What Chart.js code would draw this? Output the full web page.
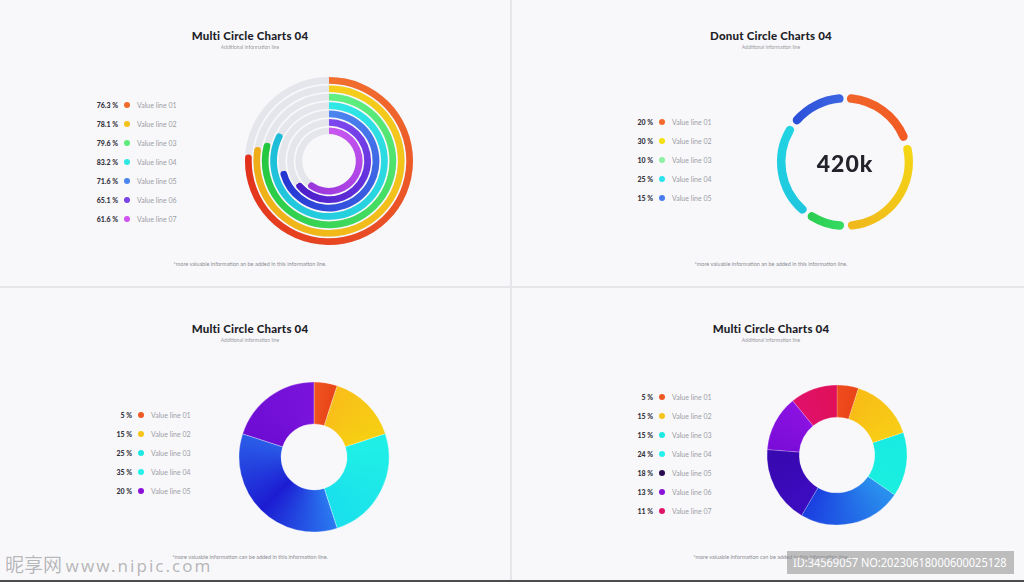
<!DOCTYPE html>
<html>
<head>
<meta charset="utf-8">
<script src="https://cdn.jsdelivr.net/npm/chart.js@4.4.0/dist/chart.umd.min.js"></script>
<style>
html, body { margin: 0; padding: 0; }
body { width: 1024px; height: 582px; position: relative; overflow: hidden; background: #f8f8fb; font-family: Lato, 'Noto Sans', sans-serif; }
.vline { position: absolute; left: 510px; top: 0; width: 2px; height: 580px; background: #e5e5ea; }
.hline { position: absolute; left: 0; top: 286px; width: 1024px; height: 2px; background: #e5e5ea; }
.bottom { position: absolute; left: 0; top: 580px; width: 1024px; height: 2px; background: #4c4c4c; }
.t { position: absolute; white-space: nowrap; line-height: 1; }
.title { font-weight: 900; font-size: 11.5px; color: #1f1f29; transform: translate(-50%, -50%); letter-spacing: 0.2px; }
.sub { font-size: 5px; color: #9a9a9f; transform: translate(-50%, -50%); }
.foot { font-size: 5.5px; color: #8c8c92; transform: translate(-50%, -50%); }
.pct { font-weight: 900; font-size: 7px; color: #34343e; transform: translate(-100%, -50%); }
.lab { font-size: 7px; color: #9c9ca4; transform: translate(0, -50%); }
.dot { position: absolute; width: 6px; height: 6px; border-radius: 50%; transform: translate(-50%, -50%); }
.big { font-weight: 900; font-size: 23px; color: #23232b; transform: translate(-50%, -50%); letter-spacing: 1px; }
canvas { position: absolute; }
.wm { position: absolute; left: 5px; top: 553px; color: rgba(90,90,90,0.42); font-family: 'Noto Sans CJK SC', sans-serif; white-space: nowrap; line-height: 22px; }
.idbox { position: absolute; left: 787px; top: 551px; width: 227px; height: 23px; background: rgba(150,150,150,0.6); }
.idtext { position: absolute; left: 6px; top: 0; color: #fff; font-family: 'Noto Sans', sans-serif; font-size: 13px; line-height: 23px; white-space: nowrap; transform-origin: 0 50%; }
</style>
</head>
<body>
<div class="vline"></div>
<div class="hline"></div>
<div class="bottom"></div>

<canvas id="ringTrack" width="200" height="200" style="left:229px;top:61px"></canvas>
<canvas id="ringChart" width="200" height="200" style="left:229px;top:61px"></canvas>
<canvas id="donut2" width="160" height="160" style="left:765px;top:82px"></canvas>
<canvas id="donut3" width="170" height="170" style="left:229px;top:372px"></canvas>
<canvas id="donut4" width="160" height="160" style="left:757px;top:375px"></canvas>

<div class="wm"><span style="font-size:19px">昵享网</span> <span style="font-size:17px;letter-spacing:2px;font-family:'Noto Sans',sans-serif">www.nipic.com</span></div>
<div class="idbox"><span class="idtext" id="idtext">ID:34569057 NO:20230618000600025128</span></div>

<script>
// panel titles / notes
const titles = ['Multi Circle Charts 04', 'Donut Circle Charts 04', 'Multi Circle Charts 04', 'Multi Circle Charts 04']
const subtitle = 'Additional information line'
const notes = [
  '*more valuable information an be added in this information line.',
  '*more valuable information an be added in this information line.',
  '*more valuable information can be added in this information line.',
  '*more valuable information can be added in this information line.'
]

// panel 1 - multi rings
const ringLabels = ['Value line 01', 'Value line 02', 'Value line 03', 'Value line 04', 'Value line 05', 'Value line 06', 'Value line 07']
const ringValues = [76.3, 78.1, 79.6, 83.2, 71.6, 65.1, 61.6]

// panel 2 - donut with gaps
const donut2Labels = ['Value line 01', 'Value line 02', 'Value line 03', 'Value line 04', 'Value line 05']
const donut2Values = [20, 30, 10, 25, 15]
const donut2Total = '420k'

// panel 3
const donut3Labels = ['Value line 01', 'Value line 02', 'Value line 03', 'Value line 04', 'Value line 05']
const donut3Values = [5, 15, 25, 35, 20]

// panel 4
const donut4Labels = ['Value line 01', 'Value line 02', 'Value line 03', 'Value line 04', 'Value line 05', 'Value line 06', 'Value line 07']
const donut4Values = [5, 15, 15, 24, 18, 13, 11]

// colours
const ringDots = ['#f06a2c', '#f2c21a', '#5cec7c', '#2ee6e2', '#4a84ee', '#7a42e8', '#d052f0']
const ringGrads = [
  ['#f27030', '#e2301a'],
  ['#f6cf1c', '#eeac18'],
  ['#62f084', '#22c63c'],
  ['#30e8e6', '#1cbcd8'],
  ['#4c86f0', '#2434d2'],
  ['#7e48f0', '#4a1cc8'],
  ['#c858f2', '#9a36dc']
]
const ringTrackColor = '#e4e6eb'

const donut2Dots = ['#f06a2c', '#f2e012', '#8ef0a2', '#2ee2ee', '#4a7cee']
const donut2Grads = [
  ['#f0642a', '#f25a22'],
  ['#f4d814', '#f0b61c'],
  ['#34dc62', '#2ccc50'],
  ['#1ec6de', '#22d4e2'],
  ['#2a4ed8', '#3c66e2']
]

const donut3Dots = ['#ee5a24', '#f6c41a', '#1ee8e2', '#24f0ec', '#8a12d8']
const donut3Grads = [
  ['#f05420', '#e84418'],
  ['#f9be1a', '#f6d012'],
  ['#1ff0e6', '#1ae0ec'],
  ['#2a7af0', '#1c1cd2', '#2a5ee8'],
  ['#6e0cd4', '#7a14dc']
]

const donut4Dots = ['#ee5a24', '#f6c41a', '#1ee8e2', '#24f0ec', '#2a0a50', '#8a12d8', '#e01466']
const donut4Grads = [
  ['#ee4c1e', '#ea4418'],
  ['#f8bc16', '#f8ce16'],
  ['#18ece2', '#1aeee0'],
  ['#2a92ee', '#1a3ee0'],
  ['#3c0cc0', '#3808b0'],
  ['#7a0cd8', '#8c12e2'],
  ['#e0106a', '#e01058']
]

function addText(cls, x, y, text, extra) {
  const d = document.createElement('div')
  d.className = 't ' + cls
  d.style.left = x + 'px'
  d.style.top = y + 'px'
  if (extra) d.style.cssText += extra
  d.textContent = text
  document.body.appendChild(d)
}

function addLegend(x, y0, step, pcts, labels, colors) {
  labels.forEach((lab, i) => {
    const y = y0 + i * step
    addText('pct', x, y, pcts[i])
    const dot = document.createElement('div')
    dot.className = 'dot'
    dot.style.left = (x + 9) + 'px'
    dot.style.top = y + 'px'
    dot.style.background = colors[i]
    document.body.appendChild(dot)
    addText('lab', x + 19, y, lab)
  })
}

const panelCenters = [[250, 35], [771, 35], [250, 328], [771, 328]]
panelCenters.forEach((c, i) => {
  addText('title', c[0], c[1] + 1, titles[i])
  addText('sub', c[0], c[1] + 12, subtitle)
  addText('foot', c[0], c[1] + 230, notes[i])
})

addLegend(118, 105, 19, ringValues.map(v => v.toFixed(1) + ' %'), ringLabels, ringDots)
addLegend(653, 122, 19, donut2Values.map(v => v + ' %'), donut2Labels, donut2Dots)
addLegend(132, 415, 19, donut3Values.map(v => v + ' %'), donut3Labels, donut3Dots)
addLegend(653, 397, 19, donut4Values.map(v => v + ' %'), donut4Labels, donut4Dots)
addText('big', 845, 163, donut2Total)

// squeeze the id text into its box
const idt = document.getElementById('idtext')
idt.style.transform = 'scaleX(' + (214 / idt.offsetWidth) + ')'

// conic gradient, one run of stops per segment, hard edges between segments
function segmentGradient(chart, values, grads) {
  const area = chart.chartArea
  if (!area) return grads[0][0]
  const cx = (area.left + area.right) / 2
  const cy = (area.top + area.bottom) / 2
  const g = chart.ctx.createConicGradient(-Math.PI / 2, cx, cy)
  const total = values.reduce((a, b) => a + b, 0)
  let start = 0
  values.forEach((v, i) => {
    const end = start + v / total
    const stops = grads[i]
    stops.forEach((col, k) => {
      const f = start + (end - start) * k / (stops.length - 1)
      g.addColorStop(Math.min(1, k === 0 ? f + 0.0001 : f), col)
    })
    start = end
  })
  return g
}

const baseOptions = {
  responsive: false,
  devicePixelRatio: 1,
  animation: false,
  events: [],
  layout: { padding: 0 },
  plugins: { legend: { display: false }, tooltip: { enabled: false } }
}

// rings: grey tracks underneath, coloured arcs on top
const trackSets = []
const ringSets = []
ringValues.forEach((v, i) => {
  if (i > 0) {
    trackSets.push({ data: [100], backgroundColor: 'rgba(0,0,0,0)', weight: 0.25, borderWidth: 0 })
    ringSets.push({ data: [100], backgroundColor: 'rgba(0,0,0,0)', weight: 0.25, borderWidth: 0 })
  }
  trackSets.push({ data: [100], backgroundColor: ringTrackColor, weight: 1, borderWidth: 0 })
  ringSets.push({
    data: [v, 100 - v],
    weight: 1,
    borderWidth: 0,
    borderRadius: ctx => ctx.dataIndex === 0 ? { outerStart: 0, innerStart: 0, outerEnd: 4, innerEnd: 4 } : 0,
    backgroundColor: ctx => ctx.dataIndex === 0
      ? segmentGradient(ctx.chart, [v, 100 - v], [ringGrads[i], ['rgba(0,0,0,0)', 'rgba(0,0,0,0)']])
      : 'rgba(0,0,0,0)'
  })
})

new Chart(document.getElementById('ringTrack'), {
  type: 'doughnut',
  data: { labels: ['track'], datasets: trackSets },
  options: { ...baseOptions, radius: 84, cutout: '32%' }
})
new Chart(document.getElementById('ringChart'), {
  type: 'doughnut',
  data: { labels: ['value', 'rest'], datasets: ringSets },
  options: { ...baseOptions, radius: 84, cutout: '32%' }
})

new Chart(document.getElementById('donut2'), {
  type: 'doughnut',
  data: {
    labels: donut2Labels,
    datasets: [{
      data: donut2Values,
      borderWidth: 0,
      spacing: 6,
      borderRadius: 5,
      backgroundColor: ctx => segmentGradient(ctx.chart, donut2Values, donut2Grads)
    }]
  },
  options: { ...baseOptions, radius: 65, cutout: '87%' }
})

new Chart(document.getElementById('donut3'), {
  type: 'doughnut',
  data: {
    labels: donut3Labels,
    datasets: [{
      data: donut3Values,
      borderWidth: 0.6,
      borderColor: 'rgba(255,255,255,0.5)',
      backgroundColor: ctx => segmentGradient(ctx.chart, donut3Values, donut3Grads)
    }]
  },
  options: { ...baseOptions, radius: 75, cutout: '44%' }
})

new Chart(document.getElementById('donut4'), {
  type: 'doughnut',
  data: {
    labels: donut4Labels,
    datasets: [{
      data: donut4Values,
      borderWidth: 0.5,
      borderColor: 'rgba(255,255,255,0.4)',
      backgroundColor: ctx => segmentGradient(ctx.chart, donut4Values, donut4Grads)
    }]
  },
  options: { ...baseOptions, radius: 70, cutout: '54%' }
})
</script>
</body>
</html>
